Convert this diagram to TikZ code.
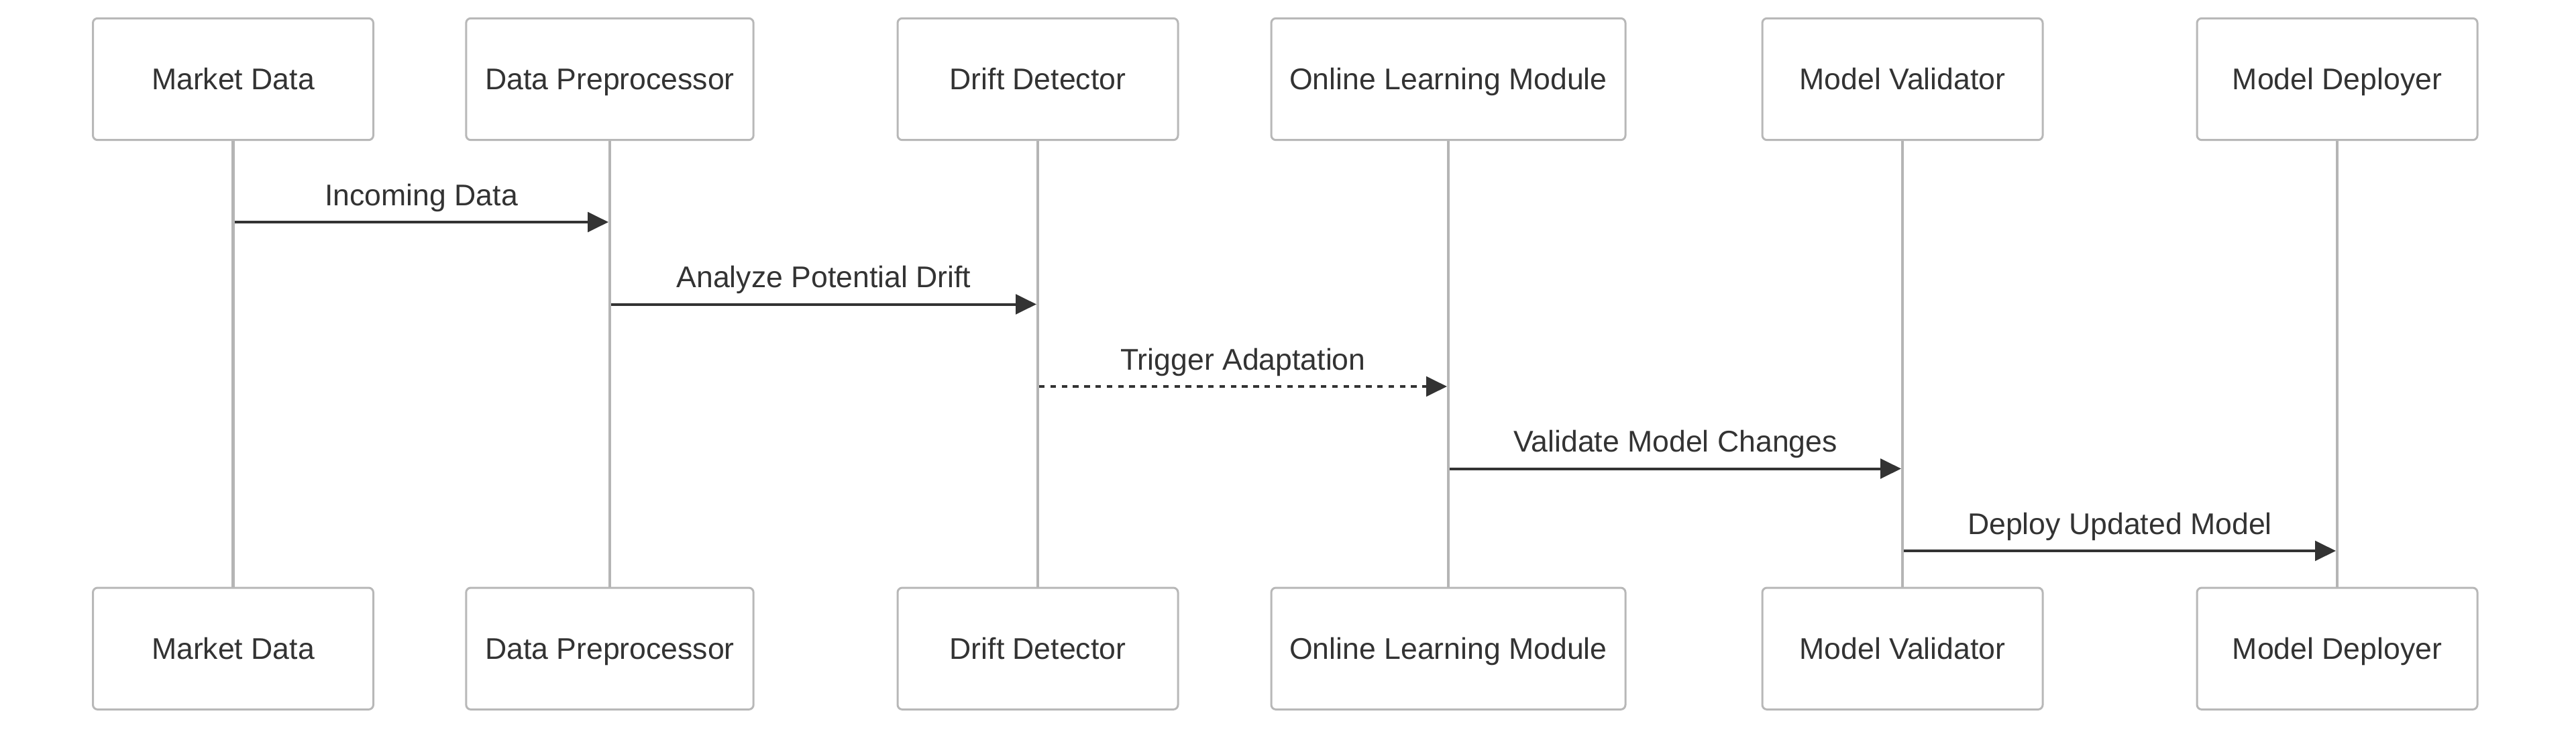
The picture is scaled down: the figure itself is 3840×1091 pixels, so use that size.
\documentclass[tikz,border=0pt]{standalone}
\usepackage{fontspec}
\setmainfont{Liberation Sans}
\usetikzlibrary{arrows.meta}
\definecolor{boxline}{HTML}{B8B8B8}
\definecolor{lifeln}{HTML}{B5B5B5}
\definecolor{ink}{HTML}{333333}
\begin{document}
\begin{tikzpicture}[x=0.25pt,y=-0.25pt,
  actor/.style={draw=boxline, line width=0.75pt, fill=white, rounded corners=1.75pt,
    minimum height=45.35pt, inner sep=0pt, text=ink, text height=7.98pt, text depth=0pt,
    font=\fontsize{11.15}{13}\selectfont},
  life/.style={draw=lifeln, line width=1.15pt},
  msg/.style={draw=ink, line width=1pt, -{Triangle[length=7.75pt,width=7.35pt]}},
  dmsg/.style={msg, dash pattern=on 2.1pt off 2.1pt},
  lbl/.style={text=ink, anchor=base, inner sep=0pt, font=\fontsize{11.15}{13}\selectfont}]
\useasboundingbox (0,0) rectangle (3840,1091);
% top actors
\node[actor, minimum width=104.5pt] (t1) at (347.5,118) {Market Data};
\node[actor, minimum width=107.1pt] (t2) at (909,118) {Data Preprocessor};
\node[actor, minimum width=104.5pt] (t3) at (1547,118) {Drift Detector};
\node[actor, minimum width=132pt]   (t4) at (2159,118) {Online Learning Module};
\node[actor, minimum width=104.5pt] (t5) at (2836,118) {Model Validator};
\node[actor, minimum width=104.5pt] (t6) at (3484,118) {Model Deployer};
% bottom actors
\node[actor, minimum width=104.5pt] (b1) at (347.5,966.7) {Market Data};
\node[actor, minimum width=107.1pt] (b2) at (909,966.7) {Data Preprocessor};
\node[actor, minimum width=104.5pt] (b3) at (1547,966.7) {Drift Detector};
\node[actor, minimum width=132pt]   (b4) at (2159,966.7) {Online Learning Module};
\node[actor, minimum width=104.5pt] (b5) at (2836,966.7) {Model Validator};
\node[actor, minimum width=104.5pt] (b6) at (3484,966.7) {Model Deployer};
% lifelines
\foreach \i in {1,...,6} {
  \draw[life] (t\i.south) -- (b\i.north);
}
% message anchor points
\coordinate (m1s) at (350,331);   \coordinate (m1e) at (907,331);
\coordinate (m2s) at (911,453.5); \coordinate (m2e) at (1545,453.5);
\coordinate (m3s) at (1549,576);  \coordinate (m3e) at (2157,576);
\coordinate (m4s) at (2161,698.5);\coordinate (m4e) at (2834,698.5);
\coordinate (m5s) at (2838,821);  \coordinate (m5e) at (3482,821);
\draw[msg]  (m1s) -- (m1e);
\draw[msg]  (m2s) -- (m2e);
\draw[dmsg] (m3s) -- (m3e);
\draw[msg]  (m4s) -- (m4e);
\draw[msg]  (m5s) -- (m5e);
\node[lbl] (l1) at (628.25,306) {Incoming Data};
\node[lbl] (l2) at (1228,428.5) {Analyze Potential Drift};
\node[lbl] (l3) at (1853,551) {Trigger Adaptation};
\node[lbl] (l4) at (2497.5,673.5) {Validate Model Changes};
\node[lbl] (l5) at (3160,796) {Deploy Updated Model};
\end{tikzpicture}
\end{document}
